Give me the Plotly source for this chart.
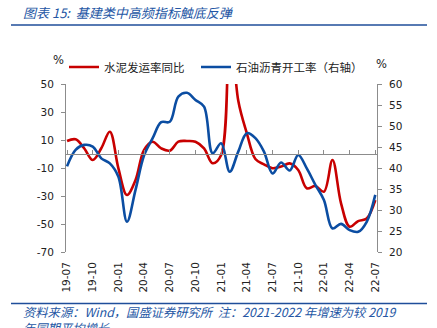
import pandas as pd
import plotly.graph_objects as go

# Monthly labels 2019-07 .. 2022-07
months = [d.strftime("%y-%m") for d in pd.date_range("2019-07-01", "2022-07-01", freq="MS")]
tick_labels = months[::3]

# 水泥发运率同比 (%)
cement_yoy = [9.3, 10.5, 4.1, -4.3, 4.1, 15.9, -10.2, -29.3, -18.6, 3.0,
              8.8, 4.0, 2.4, 8.8, 9.3, 8.8, 4.0, -6.6, -0.7, 95.0,
              38.0, 14.8, -3.6, -7.4, -10.2, -9.0, -6.7, -11.4, -24.5, -22.9,
              -26.9, -4.3, -35.2, -51.9, -47.9, -46.0, -32.9]

# 石油沥青开工率 (%, right axis)
asphalt_rate = [40.4, 44.3, 45.5, 45.1, 42.3, 41.1, 37.9, 27.2, 34.8, 43.0,
                47.1, 50.9, 51.0, 57.0, 57.9, 56.2, 54.6, 43.5, 45.9, 39.1,
                43.9, 48.3, 47.1, 43.9, 38.7, 41.3, 39.4, 43.1, 39.9, 36.0,
                32.4, 25.6, 26.7, 25.2, 24.8, 27.2, 33.6]

# Axis tick values (hyphen-minus labels)
left_ticks = [-70, -50, -30, -10, 10, 30, 50]
right_ticks = [20, 25, 30, 35, 40, 45, 50, 55, 60]

W, H = 437, 328
L, R, T, B = 66, 60, 84, 76
PW, PH = W - L - R, H - T - B


def px(x):
    return (x - L) / PW


def py(y):
    return (H - B - y) / PH


RED = "#C80000"
BLUE = "#0B4DA2"
TXT_BLUE = "#2456A4"
AXIS = "#8C8C8C"
NUM_FONT = dict(family="DejaVu Sans", size=10.5, color="#222222")
CJK = "Noto Sans CJK SC"
LEGEND_FONT = dict(family=CJK, size=11.5, color="#222222")

xs = list(range(len(months)))
tickvals = xs[::3]

fig = go.Figure()
fig.add_trace(go.Scatter(
    x=xs, y=cement_yoy, name="水泥发运率同比", mode="lines",
    line=dict(color=RED, width=2.6, shape="spline", smoothing=1.0),
    yaxis="y", legend="legend",
))
fig.add_trace(go.Scatter(
    x=xs, y=asphalt_rate, name="石油沥青开工率（右轴）", mode="lines",
    line=dict(color=BLUE, width=2.6, shape="spline", smoothing=1.0),
    yaxis="y2", legend="legend2",
))

xrange = [-0.12, 36.2]

legend_common = dict(orientation="h", yanchor="middle", xanchor="left",
                     font=LEGEND_FONT, itemwidth=30,
                     bgcolor="rgba(0,0,0,0)")

fig.update_layout(
    width=W, height=H,
    margin=dict(l=L, r=R, t=T, b=B, pad=0),
    paper_bgcolor="white", plot_bgcolor="white",
    showlegend=True,
    legend=dict(x=px(64), y=py(67), **legend_common),
    legend2=dict(x=px(196), y=py(67), **legend_common),
    xaxis=dict(
        range=xrange, tickvals=tickvals, ticktext=tick_labels,
        tickangle=-90, showline=False, showgrid=False, zeroline=False,
        ticks="", tickfont=NUM_FONT, ticklabelstandoff=7,
    ),
    xaxis2=dict(
        range=xrange, overlaying="x", anchor="free", position=70 / 120,
        tickvals=tickvals, showticklabels=False, showline=True,
        linecolor=AXIS, linewidth=1, ticks="inside", ticklen=4,
        tickcolor=AXIS, showgrid=False, zeroline=False,
    ),
    yaxis=dict(
        range=[-70, 50], tickvals=left_ticks,
        ticktext=[str(v) for v in left_ticks],
        showline=True, linecolor=AXIS, linewidth=1, ticks="outside",
        ticklen=4, tickcolor=AXIS, showgrid=False, zeroline=False,
        tickfont=NUM_FONT, ticklabelstandoff=5,
    ),
    yaxis2=dict(
        range=[20, 60], tickvals=right_ticks,
        ticktext=[str(v) for v in right_ticks],
        overlaying="y", side="right", showline=True,
        linecolor=AXIS, linewidth=1, ticks="outside", ticklen=4,
        tickcolor=AXIS, showgrid=False, zeroline=False, tickfont=NUM_FONT,
        ticklabelstandoff=5,
    ),
)

# invisible anchor for the zero-line axis
fig.add_trace(go.Scatter(x=[xs[0]], y=[0], xaxis="x2", yaxis="y",
                         mode="markers", marker=dict(opacity=0),
                         showlegend=False, hoverinfo="skip"))

annotations = [
    dict(text="<i>图表 15:  基建类中高频指标触底反弹</i>", x=px(21), y=py(13),
         xanchor="left", yanchor="middle",
         font=dict(family=CJK, size=13, color=TXT_BLUE)),
    dict(text="%", x=px(58), y=py(60), xanchor="center", yanchor="middle",
         font=dict(family="DejaVu Sans", size=11.5, color="#222222")),
    dict(text="%", x=px(381), y=py(64), xanchor="center", yanchor="middle",
         font=dict(family="DejaVu Sans", size=11.5, color="#222222")),
    dict(text="<i>资料来源：Wind，国盛证券研究所  注：2021-2022 年增速为较 2019</i>",
         x=px(21), y=py(312), xanchor="left", yanchor="middle",
         font=dict(family=CJK, size=12.3, color=TXT_BLUE)),
    dict(text="<i>年同期平均增长</i>",
         x=px(21), y=py(328), xanchor="left", yanchor="middle",
         font=dict(family=CJK, size=12.3, color=TXT_BLUE)),
]
for a in annotations:
    a.update(xref="paper", yref="paper", showarrow=False)
fig.update_layout(annotations=annotations)

fig.update_layout(shapes=[
    dict(type="line", xref="paper", yref="paper", x0=px(11), x1=px(427),
         y0=py(25), y1=py(25), line=dict(color="#1F4E9A", width=1.6)),
    dict(type="line", xref="paper", yref="paper", x0=px(11), x1=px(427),
         y0=py(303.5), y1=py(303.5), line=dict(color="#1F4E9A", width=1.6)),
])

fig.write_html("out.html")
